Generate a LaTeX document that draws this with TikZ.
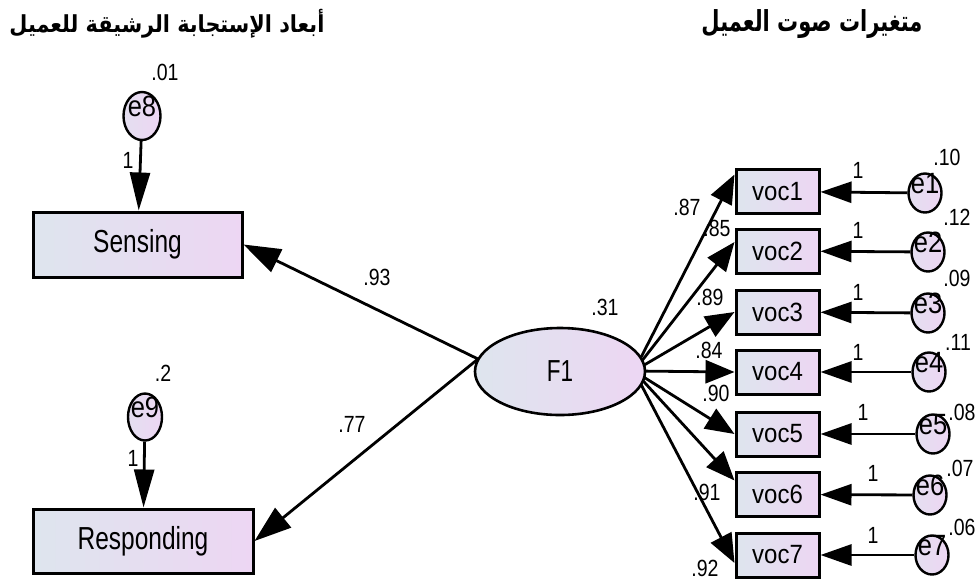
\documentclass[tikz,border=0pt]{standalone}
\usepackage{fontspec}
\setmainfont{Liberation Sans}
\newfontfamily\arabicfont[Script=Arabic]{DejaVu Sans}
\TeXXeTstate=1
\usetikzlibrary{arrows.meta,shapes.geometric,backgrounds}

\definecolor{fillL}{RGB}{222,229,238}
\definecolor{fillR}{RGB}{237,214,243}

% vertically stretched text
\newcommand\vst[2]{\scalebox{1}[#1]{#2}}

\tikzset{
  obsbox/.style={draw, rectangle, line width=3pt, left color=fillL, right color=fillR, inner sep=0},
  latent/.style={draw, ellipse, line width=2.6pt, left color=fillL, right color=fillR, inner sep=0},
  errnode/.style={draw, ellipse, line width=2.4pt, left color=fillL!60!fillR, right color=fillR,
                  inner sep=0, minimum width=33pt, minimum height=39pt},
  bigtxt/.style={font=\fontsize{24.5}{25}\selectfont},
  voctxt/.style={font=\fontsize{24}{24}\selectfont},
  num/.style={font=\fontsize{19.5}{20}\selectfont, inner sep=0},
  loading/.style={line width=2.8pt, -{Triangle[length=29pt,width=23pt]}},
  errpath/.style={line width=2.8pt, -{Triangle[length=31pt,width=21pt]}},
  factpath/.style={line width=2.8pt, -{Triangle[length=37pt,width=25pt]}},
  vertpath/.style={line width=2.8pt, -{Triangle[length=38pt,width=20pt]}},
}

\newcommand\errtxt[1]{\smash{\makebox[0pt]{\fontsize{25.5}{26}\selectfont\vst{1.15}{#1}}}}

\begin{document}
\begin{tikzpicture}[x=1pt, y=-1pt]
\useasboundingbox (0,0) rectangle (977,582);

% titles
\node[inner sep=0] (titleL) at (167,24)
  {\resizebox*{315pt}{29pt}{\arabicfont\bfseries\beginR أبعاد الإستجابة الرشيقة للعميل\endR}};
\node[inner sep=0] (titleR) at (812,24)
  {\resizebox*{221pt}{29pt}{\arabicfont\bfseries\beginR متغيرات صوت العميل\endR}};

% agility dimensions
\node[obsbox, bigtxt, minimum width=209pt, minimum height=65pt] (sens) at (137.5,244.5) {\vst{1.3}{Sensing}};
\node[obsbox, bigtxt, minimum width=220pt, minimum height=64pt] (resp) at (143,541) {\vst{1.3}{Responding}};
\node[errnode, minimum width=37pt, minimum height=48pt] (e8) at (142,116) {\errtxt{e8}};
\node[errnode, minimum width=34pt, minimum height=47pt] (e9) at (145,417) {\errtxt{e9}};

% latent factor
\node[latent, minimum width=170pt, minimum height=87pt, font=\fontsize{22.5}{23}\selectfont] (F1) at (560,371.5) {\vst{1.35}{F1}};
\coordinate (hubL) at (478,359);
\coordinate (hubR) at (634,371);

% voice of customer indicators
\foreach \i/\y in {1/191.5, 2/251, 3/312, 4/372, 5/434, 6/494.5, 7/555}{
  \node[obsbox, voctxt, minimum width=83pt, minimum height=44pt] (voc\i) at (777.5,\y) {\vst{1.1}{voc\i}};
}
\node[errnode] (e1) at (925,193) {\errtxt{e1}};
\node[errnode] (e2) at (928,252) {\errtxt{e2}};
\node[errnode] (e3) at (928,313) {\errtxt{e3}};
\node[errnode] (e4) at (929,372) {\errtxt{e4}};
\node[errnode] (e5) at (933,434) {\errtxt{e5}};
\node[errnode] (e6) at (930,495) {\errtxt{e6}};
\node[errnode] (e7) at (932,555) {\errtxt{e7}};

% estimates
\node[num] (v01) at (165,72) {\vst{1.2}{.01}};
\node[num] (v2) at (163,373) {\vst{1.2}{.2}};
\node[num] (one8) at (128,160) {\vst{1.2}{1}};
\node[num] (one9) at (133,458) {\vst{1.2}{1}};
\node[num] (w93) at (377,277) {\vst{1.2}{.93}};
\node[num] (w77) at (352,424) {\vst{1.2}{.77}};
\node[num] (v31) at (605,307) {\vst{1.2}{.31}};

\node[num] (w87) at (687,207) {\vst{1.2}{.87}};
\node[num] (w85) at (717,228) {\vst{1.2}{.85}};
\node[num] (w89) at (710,297) {\vst{1.2}{.89}};
\node[num] (w84) at (709,350) {\vst{1.2}{.84}};
\node[num] (w90) at (716,393) {\vst{1.2}{.90}};
\node[num] (w91) at (707,492) {\vst{1.2}{.91}};
\node[num] (w92) at (705,568) {\vst{1.2}{.92}};

\node[num] (v10) at (947,157) {\vst{1.2}{.10}};
\node[num] (v12) at (957,217) {\vst{1.2}{.12}};
\node[num] (v09) at (957,278) {\vst{1.2}{.09}};
\node[num] (v11) at (958,342) {\vst{1.2}{.11}};
\node[num] (v08) at (962,412) {\vst{1.2}{.08}};
\node[num] (v07) at (960,468) {\vst{1.2}{.07}};
\node[num] (v06) at (962,527) {\vst{1.2}{.06}};

\node[num] (one1) at (858,170) {\vst{1.2}{1}};
\node[num] (one2) at (858,230) {\vst{1.2}{1}};
\node[num] (one3) at (858,292) {\vst{1.2}{1}};
\node[num] (one4) at (858,352) {\vst{1.2}{1}};
\node[num] (one5) at (863,412) {\vst{1.2}{1}};
\node[num] (one6) at (873,473) {\vst{1.2}{1}};
\node[num] (one7) at (873,535) {\vst{1.2}{1}};

% paths, drawn behind the shapes
\begin{scope}[on background layer]
  \draw[factpath] (hubL) -- (sens.east);
  \draw[factpath] (hubL) -- (resp.east);
  \draw[vertpath] (e8) -- (sens);
  \draw[vertpath] (e9) -- (resp);
  \draw[loading] (hubR) -- ([yshift=17pt]voc1.west);
  \draw[loading] (hubR) -- ([yshift=9pt]voc2.west);
  \draw[loading] (hubR) -- (voc3.west);
  \draw[loading] (hubR) -- (voc4.west);
  \draw[loading] (hubR) -- (voc5.west);
  \draw[loading] (hubR) -- ([yshift=14pt]voc6.west);
  \draw[loading] (hubR) -- ([yshift=-8pt]voc7.west);
  \foreach \i in {1,...,7}{
    \draw[errpath] (e\i) -- (voc\i);
  }
\end{scope}
\end{tikzpicture}
\end{document}
